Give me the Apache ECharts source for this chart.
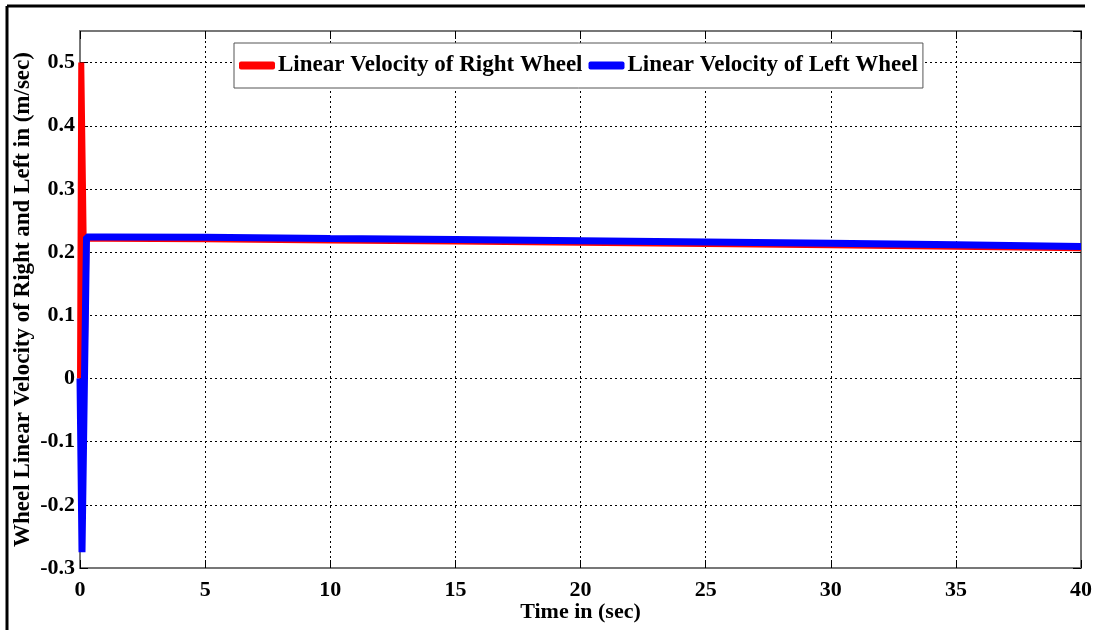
<!DOCTYPE html>
<html>
<head>
<meta charset="utf-8">
<script src="https://cdn.jsdelivr.net/npm/echarts@6/dist/echarts.min.js"></script>
<style>
  html, body { margin: 0; padding: 0; background: #fff; }
  #chart { width: 1094px; height: 630px; }
</style>
</head>
<body>
<div id="chart"></div>
<script>
// time samples (sec)
var rightTime = [0, 0.05, 0.12, 0.2, 0.26, 1, 5, 10, 15, 20, 25, 30, 35, 40];
var rightVel  = [0, 0.5, 0.3, 0.06, 0.221, 0.221, 0.2205, 0.2185, 0.217, 0.215, 0.213, 0.211, 0.2085, 0.206];

var leftTime = [0, 0.08, 0.26, 1, 5, 10, 15, 20, 25, 30, 35, 40];
var leftVel  = [0, -0.275, 0.224, 0.224, 0.2235, 0.2215, 0.22, 0.218, 0.216, 0.214, 0.2115, 0.209];

var seriesNames = ['Linear Velocity of Right Wheel', 'Linear Velocity of Left Wheel'];

function pairs(t, v) {
    return t.map(function (x, i) { return [x, v[i]]; });
}

var font = 'Liberation Serif';
var chart = echarts.init(document.getElementById('chart'));

var gridLine = { show: true, lineStyle: { color: '#000', type: [2, 3], width: 1 } };

chart.setOption({
    animation: false,
    backgroundColor: '#fff',
    graphic: [
        { type: 'line', shape: { x1: 7, y1: 6, x2: 1085, y2: 6 }, style: { stroke: '#000', lineWidth: 3 } },
        { type: 'line', shape: { x1: 7, y1: 6, x2: 7, y2: 630 }, style: { stroke: '#000', lineWidth: 3 } }
    ],
    grid: { left: 80, right: 13, top: 31, bottom: 62, outerBoundsMode: 'none', containLabel: false },
    legend: {
        left: 234,
        top: 43,
        data: seriesNames,
        icon: 'roundRect',
        itemWidth: 36,
        itemHeight: 8,
        itemGap: 6,
        padding: [11, 5, 11, 5],
        borderColor: '#555',
        borderWidth: 1,
        backgroundColor: '#fff',
        textStyle: { fontFamily: font, fontWeight: 'bold', fontSize: 23, color: '#000', padding: [0, 0, 0, -2] }
    },
    xAxis: [{
        type: 'value',
        min: 0,
        max: 40,
        interval: 5,
        name: 'Time in (sec)',
        nameLocation: 'middle',
        nameGap: 33,
        nameMoveOverlap: false,
        nameTextStyle: { fontFamily: font, fontWeight: 'bold', fontSize: 22, color: '#000' },
        axisLine: { onZero: false, lineStyle: { color: '#777', width: 2 } },
        axisTick: { inside: true, length: 8, lineStyle: { color: '#000' } },
        axisLabel: { fontFamily: font, fontWeight: 'bold', fontSize: 22, color: '#000', margin: 11 },
        splitLine: gridLine
    }, {
        type: 'value',
        position: 'top',
        min: 0,
        max: 40,
        interval: 5,
        axisLine: { onZero: false, lineStyle: { color: '#777', width: 2 } },
        axisTick: { inside: true, length: 8, lineStyle: { color: '#000' } },
        axisLabel: { show: false },
        splitLine: { show: false }
    }],
    yAxis: [{
        type: 'value',
        min: -0.3,
        max: 0.55,
        interval: 0.1,
        name: 'Wheel Linear Velocity of Right and Left in (m/sec)',
        nameLocation: 'middle',
        nameGap: 45,
        nameMoveOverlap: false,
        nameTextStyle: { fontFamily: font, fontWeight: 'bold', fontSize: 23, color: '#000' },
        axisLine: { onZero: false, lineStyle: { color: '#777', width: 2 } },
        axisTick: { inside: true, length: 8, lineStyle: { color: '#000' } },
        axisLabel: {
            fontFamily: font, fontWeight: 'bold', fontSize: 22, color: '#000', margin: 5,
            showMaxLabel: false,
            formatter: function (v) { return String(+v.toFixed(1)); }
        },
        splitLine: gridLine
    }, {
        type: 'value',
        position: 'right',
        min: -0.3,
        max: 0.55,
        interval: 0.1,
        axisLine: { onZero: false, lineStyle: { color: '#777', width: 2 } },
        axisTick: { inside: true, length: 8, lineStyle: { color: '#000' } },
        axisLabel: { show: false },
        splitLine: { show: false }
    }],
    series: [{
        name: seriesNames[0],
        type: 'line',
        data: pairs(rightTime, rightVel),
        showSymbol: false,
        itemStyle: { color: '#ff0000' },
        lineStyle: { color: '#ff0000', width: 6 }
    }, {
        name: seriesNames[1],
        type: 'line',
        data: pairs(leftTime, leftVel),
        showSymbol: false,
        itemStyle: { color: '#0000ff' },
        lineStyle: { color: '#0000ff', width: 7 }
    }]
});
</script>
</body>
</html>
